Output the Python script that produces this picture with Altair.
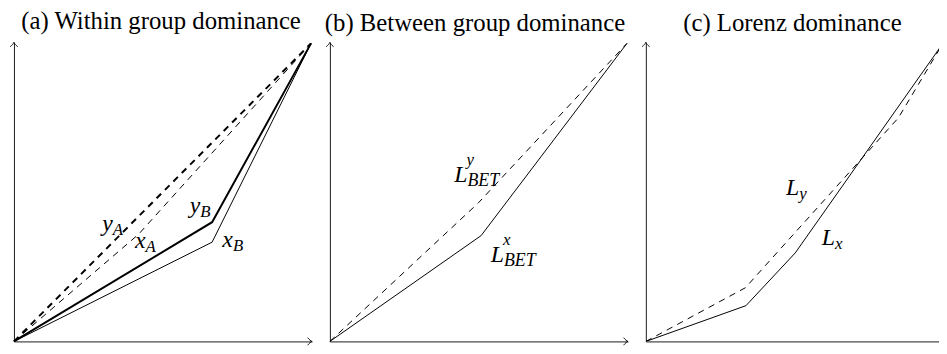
import altair as alt
import pandas as pd

# ---------------- data (Lorenz-type curves, shares 0..1) ----------------
TITLES = ["(a) Within group dominance", "(b) Between group dominance", "(c) Lorenz dominance"]

# panel (a)
A_yA_x = [0.0, 1.0]
A_yA_y = [0.0, 1.0]
A_xA_x = [0.0, 0.42, 1.0]
A_xA_y = [0.0, 0.36, 1.0]
A_yB_x = [0.0, 0.667, 1.0]
A_yB_y = [0.0, 0.40, 1.0]
A_xB_x = [0.0, 0.667, 1.0]
A_xB_y = [0.0, 0.333, 1.0]

# panel (b)
B_Ly_x = [0.0, 0.50, 1.0]
B_Ly_y = [0.0, 0.465, 1.0]
B_Lx_x = [0.0, 0.509, 1.0]
B_Lx_y = [0.0, 0.355, 1.0]

# panel (c)
C_Ly_x = [0.0, 0.335, 0.85, 1.0]
C_Ly_y = [0.0, 0.18, 0.75, 1.0]
C_Lx_x = [0.0, 0.337, 0.503, 1.0]
C_Lx_y = [0.0, 0.12, 0.297, 1.0]

# curve labels: main symbol, subscript, superscript, anchor x, anchor y
A_LAB_MAIN = ["y", "x", "y", "x"]
A_LAB_SUB = ["A", "A", "B", "B"]
A_LAB_SUP = ["", "", "", ""]
A_LAB_X = [0.333, 0.443, 0.627, 0.737]
A_LAB_Y = [0.372, 0.312, 0.432, 0.316]

B_LAB_MAIN = ["L", "L"]
B_LAB_SUB = ["BET", "BET"]
B_LAB_SUP = ["y", "x"]
B_LAB_X = [0.463, 0.586]
B_LAB_Y = [0.535, 0.268]

C_LAB_MAIN = ["L", "L"]
C_LAB_SUB = ["y", "x"]
C_LAB_SUP = ["", ""]
C_LAB_X = [0.516, 0.637]
C_LAB_Y = [0.49, 0.322]

# ---------------- styling ----------------
FONT = "Liberation Serif"
AXMAX = 1.0035
W, H = 301, 302
WC = 296                     # last panel is cut at the right edge of the page
YS = alt.Scale(domain=[0, AXMAX], nice=False, zero=False)
AX = alt.Axis(domain=True, ticks=False, labels=False, grid=False, title=None,
              domainColor="black", domainWidth=0.9)
ARROW = "M -1 -0.85 C -0.6 -0.35 -0.25 -0.1 0 0 C -0.25 0.1 -0.6 0.35 -1 0.85"
DASH = [6.5, 5.5]


def enc(ch, xmax=AXMAX):
    return ch.encode(
        x=alt.X("x:Q", scale=alt.Scale(domain=[0, xmax], nice=False, zero=False), axis=AX),
        y=alt.Y("y:Q", scale=YS, axis=AX),
    )


def line(xv, yv, width, dashed, xmax=AXMAX, clip=False):
    df = pd.DataFrame({"x": xv, "y": yv, "o": list(range(len(xv)))})
    kw = dict(color="black", strokeWidth=width, strokeCap="butt", clip=clip)
    if dashed:
        kw["strokeDash"] = DASH
    return enc(alt.Chart(df).mark_line(**kw), xmax).encode(order="o:Q")


def arrows(xmax=AXMAX, with_x=True):
    xs_ = [0.0] + ([AXMAX] if with_x else [])
    ys_ = [AXMAX] + ([0.0] if with_x else [])
    an_ = [270] + ([0] if with_x else [])
    df = pd.DataFrame({"x": xs_, "y": ys_, "a": an_})
    return enc(alt.Chart(df).mark_point(shape=ARROW, size=80, filled=False,
                                        color="black", strokeWidth=0.9, opacity=1),
               xmax).encode(angle=alt.Angle("a:Q", scale=None))


def labels(main, sub, sup, xs, ys, xmax=AXMAX, subsize=17):
    df = pd.DataFrame({"x": xs, "y": ys, "main": main, "sub": sub, "sup": sup})
    base = enc(alt.Chart(df), xmax)
    m = base.mark_text(align="right", baseline="alphabetic", font=FONT,
                       fontStyle="italic", fontSize=24, color="black").encode(text="main:N")
    s = base.mark_text(align="left", baseline="alphabetic", font=FONT,
                       fontStyle="italic", fontSize=subsize, dy=4, color="black").encode(text="sub:N")
    p = base.transform_filter("datum.sup != ''").mark_text(
        align="left", baseline="alphabetic", font=FONT, fontStyle="italic",
        fontSize=17, dy=-17, dx=-1, color="black").encode(text="sup:N")
    return [m, s, p]


def title(t, dx):
    return alt.TitleParams(t, font=FONT, fontSize=25, fontWeight="normal",
                           anchor="middle", offset=-15, dx=dx, baseline="alphabetic",
                           color="black", frame="group")


pa = alt.layer(
    line(A_xB_x, A_xB_y, 1, False),
    line(A_xA_x, A_xA_y, 1, True),
    line(A_yB_x, A_yB_y, 2, False),
    line(A_yA_x, A_yA_y, 2, True),
    arrows(),
    *labels(A_LAB_MAIN, A_LAB_SUB, A_LAB_SUP, A_LAB_X, A_LAB_Y),
).properties(width=W, height=H, title=title(TITLES[0], -2))

pb = alt.layer(
    line(B_Lx_x, B_Lx_y, 1, False),
    line(B_Ly_x, B_Ly_y, 1, True),
    arrows(),
    *labels(B_LAB_MAIN, B_LAB_SUB, B_LAB_SUP, B_LAB_X, B_LAB_Y, subsize=18),
).properties(width=W, height=H, title=title(TITLES[1], -4))

CX = AXMAX * WC / W
pc = alt.layer(
    line(C_Lx_x, C_Lx_y, 1, False, CX, True),
    line(C_Ly_x, C_Ly_y, 1, True, CX, True),
    arrows(CX, with_x=False),
    *labels(C_LAB_MAIN, C_LAB_SUB, C_LAB_SUP, C_LAB_X, C_LAB_Y, CX),
).properties(width=WC, height=H, title=title(TITLES[2], 0))

chart = alt.hconcat(pa, pb, pc, spacing=18, bounds="flush").properties(
    padding={"left": 0, "top": 0, "right": 0, "bottom": 0}
).configure_view(stroke=None)

chart.save("out.html", embed_options={"renderer": "svg", "actions": False})
